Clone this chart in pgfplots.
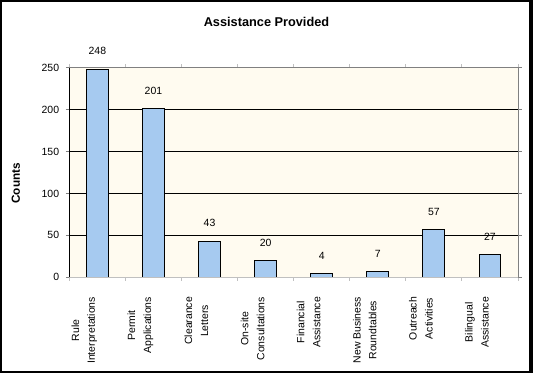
\documentclass[border=0pt]{standalone}
\usepackage{pgfplots}
\pgfplotsset{compat=1.18}
\usepackage{fontspec}
\setmainfont{Liberation Sans}
\definecolor{barblue}{RGB}{166,202,240}
\definecolor{cream}{RGB}{255,251,240}
\definecolor{ltgray}{RGB}{192,192,192}
\definecolor{dkgray}{RGB}{128,128,128}
\begin{document}
\begin{tikzpicture}[x=1bp,y=1bp]
\useasboundingbox (0,0) rectangle (533,373);
\fill[black] (0,0) rectangle (533,2);
\fill[black] (0,371) rectangle (533,373);
\fill[black] (0,0) rectangle (2,373);
\fill[black] (529,0) rectangle (533,373);
\node[font=\bfseries\fontsize{12.8}{14}\selectfont] at (266.5,351) {Assistance Provided};
\node[rotate=90,font=\bfseries\fontsize{11.8}{14}\selectfont] at (15.9,189.7) {Counts};
\begin{axis}[
  at={(69.3bp,95.7bp)}, anchor=south west,
  scale only axis,
  width=448.7bp, height=209.6bp,
  xmin=0.5, xmax=8.5, ymin=0, ymax=250,
  axis background/.style={fill=cream},
  axis line style={draw=none},
  /pgf/number format/assume math mode=true,
  tick align=outside,
  major tick length=3.5bp,
  ytick={0,50,...,250},
  ytick style={draw=dkgray, line width=0.8bp},
  yticklabel style={font=\fontsize{10.5}{12}\selectfont, inner sep=0pt},
  yticklabel shift=6.5bp,
  extra y ticks={50,100,150,200},
  extra y tick labels={},
  extra y tick style={grid=major, major grid style={black, line width=1bp}},
  xtick={0.5,1.5,...,8.5},
  xticklabels={{Rule\\Interpretations},{Permit\\Applications},{Clearance\\Letters},{On-site\\Consultations},{Financial\\Assistance},{New Business\\Roundtables},{Outreach\\Activities},{Bilingual\\Assistance},{}},
  xtick style={draw=ltgray, line width=1bp},
  xticklabel style={xshift=15bp, rotate=90, anchor=east, align=center, font=\fontsize{10.5}{16}\selectfont, inner sep=0pt},
  xticklabel shift=16bp,
  clip=false,
]
\addplot[ybar, bar width=21.8bp, fill=barblue, draw=black, line width=1bp,
  nodes near coords,
  every node near coord/.append style={font=\fontsize{10.5}{12}\selectfont, anchor=center, yshift=18bp, text=black}]
  coordinates {(1,248) (2,201) (3,43) (4,20) (5,4) (6,7) (7,57) (8,27)};
\draw[dkgray, line width=1bp] (rel axis cs:0,1) -- (rel axis cs:1,1) -- (rel axis cs:1,0);
\draw[ltgray, line width=1.5bp] (rel axis cs:0,0) -- (rel axis cs:1,0);
\draw[black, line width=1bp] (rel axis cs:0,0) -- (rel axis cs:0,1);
\end{axis}
\end{tikzpicture}
\end{document}
